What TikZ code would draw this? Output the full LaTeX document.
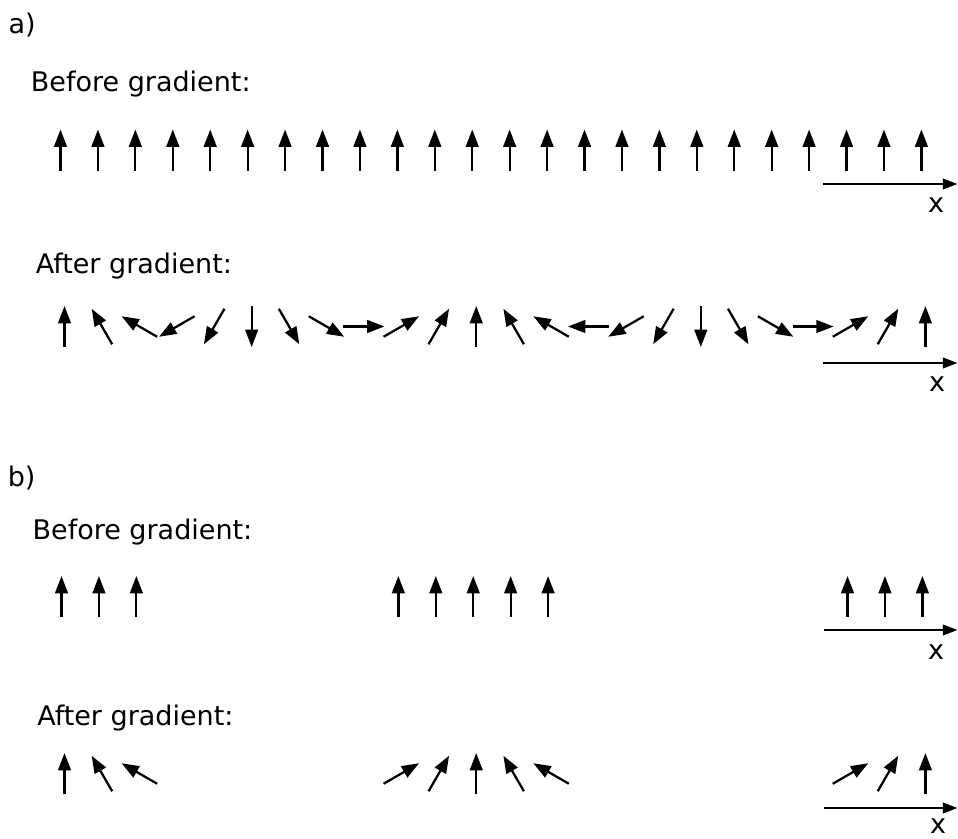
\documentclass[tikz,border=0pt]{standalone}
\usepackage{fontspec}
\setmainfont{DejaVu Sans}
\usetikzlibrary{arrows.meta}

\begin{document}
\begin{tikzpicture}[x=0.75pt,y=0.75pt,
  spin/.style={line width=1.7pt, -{Triangle[length=13pt,width=9.5pt]}},
  axisline/.style={line width=1.4pt, -{Triangle[length=11pt,width=8pt]}},
  heading/.style={anchor=base west, inner sep=0pt, font=\fontsize{20.25}{24}\selectfont},
  axislabel/.style={inner sep=0pt, font=\fontsize{20.25}{24}\selectfont}]
\useasboundingbox (0,0) rectangle (958,-839);

% ---------------- part a) ----------------
\node[heading] (la) at (8.4,-33.3) {a)};
\node[heading] (abefore) at (30.7,-91) {Before gradient:};
\node[heading] (aafter) at (35.5,-273) {After gradient:};

% uniform spins
\foreach \i in {0,...,23}
  \draw[spin] ({60.5+37.43*\i},-170.5) -- ++(0,41);
\coordinate (ax1s) at (823,-184);
\coordinate (ax1e) at (957.5,-184);
\draw[axisline] (ax1s) -- (ax1e);
\node[axislabel] (x1) at (936,-205.5) {x};

% spins after the gradient pulse: a rotating helix
\foreach \a [count=\i from 0] in {90,120,150,210,240,270,300,330,0,30,60,90,
                                   120,150,180,210,240,270,300,330,0,30,60,90}
  \draw[spin] ({64.5+37.43*\i},-326.5) ++({\a+180}:20.5) -- ++(\a:41);
\coordinate (ax2s) at (823,-363);
\coordinate (ax2e) at (957.5,-363);
\draw[axisline] (ax2s) -- (ax2e);
\node[axislabel] (x2) at (937,-384) {x};

% ---------------- part b) ----------------
\node[heading] (lb) at (7.5,-486) {b)};
\node[heading] (bbefore) at (32.4,-539) {Before gradient:};
\node[heading] (bafter) at (37,-725) {After gradient:};

\foreach \i in {0,1,2,9,10,11,12,13,21,22,23}
  \draw[spin] ({61.5+37.43*\i},-617) -- ++(0,41);
\coordinate (ax3s) at (824,-630);
\coordinate (ax3e) at (957.5,-630);
\draw[axisline] (ax3s) -- (ax3e);
\node[axislabel] (x3) at (936,-652) {x};

\foreach \i/\a in {0/90,1/120,2/150,9/30,10/60,11/90,12/120,13/150,21/30,22/60,23/90}
  \draw[spin] ({64.5+37.43*\i},-773.5) ++({\a+180}:20.5) -- ++(\a:41);
\coordinate (ax4s) at (824,-808);
\coordinate (ax4e) at (957.5,-808);
\draw[axisline] (ax4s) -- (ax4e);
\node[axislabel] (x4) at (938,-826.5) {x};
\end{tikzpicture}
\end{document}
